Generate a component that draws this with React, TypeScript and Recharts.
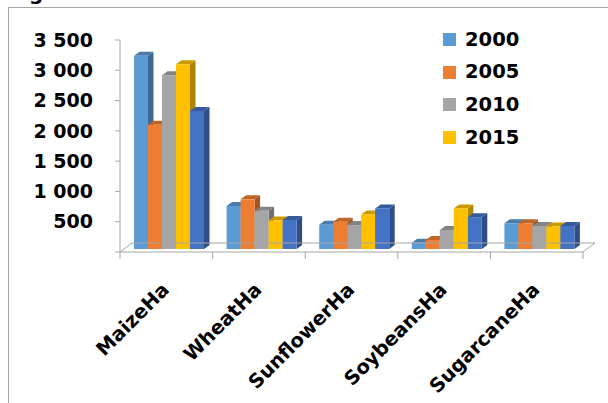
import React from 'react';
import { BarChart, Bar, XAxis, YAxis, Legend } from 'recharts';

// Harvested area per crop (ha, thousands) by survey year
const categories = ['MaizeHa', 'WheatHa', 'SunflowerHa', 'SoybeansHa', 'SugarcaneHa'];
const series2000 = [3190, 710, 400, 105, 425];
const series2005 = [2050, 820, 450, 150, 425];
const series2010 = [2870, 630, 395, 315, 380];
const series2015 = [3050, 470, 570, 670, 370];
const series2020 = [2280, 480, 670, 525, 380];
const yTicks = [0, 500, 1000, 1500, 2000, 2500, 3000, 3500];

const FONT = '"DejaVu Sans", sans-serif';
const LINE = '#A6A6A6';

const seriesList = [
  { key: 'y2000', name: '2000', values: series2000, color: '#5B9BD5', inLegend: true },
  { key: 'y2005', name: '2005', values: series2005, color: '#ED7D31', inLegend: true },
  { key: 'y2010', name: '2010', values: series2010, color: '#A5A5A5', inLegend: true },
  { key: 'y2015', name: '2015', values: series2015, color: '#FFC000', inLegend: true },
  { key: 'y2020', name: '2020', values: series2020, color: '#4472C4', inLegend: false },
];

const data = categories.map((category, i) => {
  const row: Record<string, string | number> = { category };
  seriesList.forEach((s) => {
    row[s.key] = s.values[i];
  });
  return row;
});

function shade(hex: string, f: number): string {
  const n = parseInt(hex.slice(1), 16);
  const r = (n >> 16) & 255;
  const g = (n >> 8) & 255;
  const b = n & 255;
  return `rgb(${Math.round(r * f)},${Math.round(g * f)},${Math.round(b * f)})`;
}

// 3D prism: bars stand half way into the floor, with a top cap and a right side face
const DX = 5.5;
const DY = 4;
const SHIFT_X = 3;
const SHIFT_Y = 3;
// floor depth
const FLOOR_DX = 12;
const FLOOR_DY = 9;

function Prism(props: any) {
  const { x, y, width, height, fill } = props;
  if (width == null || height == null || isNaN(y)) return null;
  const fx = x + SHIFT_X;
  const fy = y - SHIFT_Y;
  const r = fx + width;
  const b = fy + height;
  return (
    <g>
      <polygon
        points={`${r},${fy} ${r + DX},${fy - DY} ${r + DX},${b - DY} ${r},${b}`}
        fill={shade(fill, 0.68)}
      />
      <polygon
        points={`${fx},${fy} ${fx + DX},${fy - DY} ${r + DX},${fy - DY} ${r},${fy}`}
        fill={shade(fill, 0.8)}
      />
      <rect x={fx} y={fy} width={width} height={height} fill={fill} />
    </g>
  );
}

// Category label plus the floor outline and the between-category tick marks
function CategoryTick(props: any) {
  const { x, y, payload, index, width, visibleTicksCount } = props;
  const count = categories.length;
  const half =
    payload && typeof payload.offset === 'number' && payload.offset > 0
      ? payload.offset
      : width / (2 * (visibleTicksCount || count));
  const left = x - half;
  const floorLeft = left - index * 2 * half;
  const floorRight = floorLeft + count * 2 * half;
  return (
    <g>
      {index === 0 && (
        <g stroke={LINE} strokeWidth={1} fill="none">
          <line x1={floorLeft} y1={y} x2={floorLeft + FLOOR_DX} y2={y - FLOOR_DY} />
          <line x1={floorRight} y1={y} x2={floorRight + FLOOR_DX} y2={y - FLOOR_DY} />
          <line
            x1={floorLeft + FLOOR_DX}
            y1={y - FLOOR_DY}
            x2={floorRight + FLOOR_DX}
            y2={y - FLOOR_DY}
          />
        </g>
      )}
      <line x1={left} y1={y} x2={left} y2={y + 7} stroke={LINE} />
      {index === count - 1 && (
        <line x1={x + half} y1={y} x2={x + half} y2={y + 7} stroke={LINE} />
      )}
      <text
        x={x + 4}
        y={y + 39}
        transform={`rotate(-45, ${x + 4}, ${y + 39})`}
        textAnchor="end"
        fontFamily={FONT}
        fontWeight={700}
        fontSize={19.5}
        fill="#000"
      >
        {payload.value}
      </text>
    </g>
  );
}

function formatThousands(v: number): string {
  if (v === 0) return '';
  return String(v).replace(/\B(?=(\d{3})+(?!\d))/g, ' ');
}

function LegendBox(props: any) {
  const items = (props.payload || []).filter((p: any) => p.type !== 'none');
  return (
    <div style={{ fontFamily: FONT, fontWeight: 700, fontSize: 19.5, color: '#000' }}>
      {items.map((p: any) => (
        <div
          key={p.value}
          style={{ display: 'flex', alignItems: 'center', height: 32.7, lineHeight: 1 }}
        >
          <span
            style={{
              display: 'inline-block',
              width: 13,
              height: 13,
              background: p.color,
              marginRight: 9,
            }}
          />
          <span>{p.value}</span>
        </div>
      ))}
    </div>
  );
}

export default function App() {
  return (
    <div
      style={{
        position: 'absolute',
        left: 0,
        top: 0,
        width: 608,
        height: 403,
        background: '#fff',
        fontFamily: FONT,
        overflow: 'hidden',
      }}
    >
      <svg
        width={608}
        height={403}
        style={{ position: 'absolute', left: 0, top: 0, pointerEvents: 'none' }}
      >
        <text x={29} y={-0.5} fontFamily={FONT} fontWeight={700} fontSize={20} fill="#000">
          g
        </text>
        <line x1={8} y1={7.5} x2={608} y2={7.5} stroke={LINE} />
        <line x1={8.5} y1={7.5} x2={8.5} y2={403} stroke={LINE} />
      </svg>
      <div style={{ position: 'absolute', left: 0, top: 0 }}>
        <BarChart
          width={608}
          height={403}
          data={data}
          margin={{ top: 40, right: 25, bottom: 0, left: 0 }}
          barGap={0}
          barSize={14}
        >
          <XAxis
            dataKey="category"
            height={151}
            axisLine={{ stroke: LINE }}
            tickLine={false}
            tickSize={0}
            tickMargin={0}
            interval={0}
            tick={<CategoryTick />}
          />
          <YAxis
            width={120}
            domain={[0, 3500]}
            ticks={yTicks}
            interval={0}
            tickSize={5}
            tickMargin={22}
            axisLine={{ stroke: LINE }}
            tickLine={{ stroke: LINE }}
            tickFormatter={formatThousands}
            tick={{ fill: '#000', fontSize: 19, fontWeight: 700, fontFamily: FONT }}
          />
          <Legend
            layout="vertical"
            verticalAlign="middle"
            align="center"
            content={<LegendBox />}
            wrapperStyle={{ position: 'absolute', left: 443, top: 23, width: 120, height: 140 }}
          />
          {seriesList.map((s) => (
            <Bar
              key={s.key}
              dataKey={s.key}
              name={s.name}
              fill={s.color}
              legendType={s.inLegend ? 'square' : 'none'}
              shape={<Prism />}
              isAnimationActive={false}
            />
          ))}
        </BarChart>
      </div>
    </div>
  );
}
